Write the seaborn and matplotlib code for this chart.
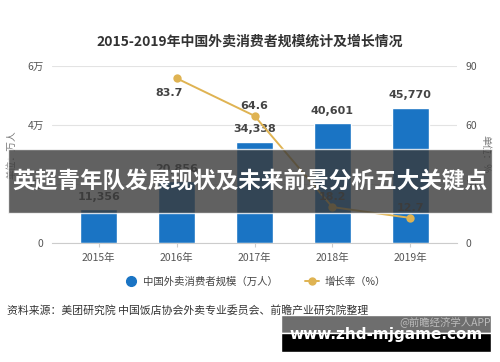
import matplotlib
matplotlib.use("Agg")
import matplotlib.pyplot as plt
import matplotlib.patches as mpatches
from matplotlib.lines import Line2D
import seaborn as sns
import pandas as pd

# data
years = ["2015年", "2016年", "2017年", "2018年", "2019年"]
users = [11356, 20856, 34338, 40601, 45770]
growth_years = ["2016年", "2017年", "2018年", "2019年"]
growth = [83.7, 64.6, 18.2, 12.7]
left_ticks = [0, 20000, 40000, 60000]
left_labels = ["0", "2万", "4万", "6万"]
right_ticks = [0, 30, 60, 90]

sns.set_style("white")
plt.rcParams["font.family"] = ["Noto Sans CJK SC", "DejaVu Sans"]

bar_color = "#1a74c4"
line_color = "#dfb352"

fig = plt.figure(figsize=(5, 3.62), dpi=100)
ax = fig.add_axes([0.104, 0.329, 0.81, 0.489])

df = pd.DataFrame({"year": years, "users": users})
sns.barplot(data=df, x="year", y="users", color=bar_color, width=0.47,
            saturation=1, ax=ax, zorder=2)
ax.set_xlim(-0.6, 4.6)
ax.set_ylim(0, 60000)
ax.set_yticks(left_ticks)
ax.set_yticklabels(left_labels)
ax.yaxis.grid(True, color="#e3e3e3", lw=0.8)
ax.set_axisbelow(True)
for s in ["top", "right", "left"]:
    ax.spines[s].set_visible(False)
ax.spines["bottom"].set_color("#cccccc")
ax.tick_params(axis="y", length=0, pad=6, labelsize=7.5, labelcolor="#555555")
ax.tick_params(axis="x", length=3, color="#cccccc", pad=4, labelsize=7.5,
               labelcolor="#555555", bottom=True)
ax.set_xlabel("")
ax.set_ylabel("单位：万人", fontsize=7, color="#777777", labelpad=8)

for i, v in enumerate(users):
    ax.text(i, v + 2500, f"{v:,}", ha="center", va="bottom", fontsize=8,
            fontweight="bold", color="#444444", family="DejaVu Sans")

ax2 = ax.twinx()
gx = [years.index(y) for y in growth_years]
gdf = pd.DataFrame({"x": gx, "g": growth})
sns.lineplot(data=gdf, x="x", y="g", color=line_color, lw=1.4, marker="o",
             markersize=6, markeredgewidth=0, ax=ax2, zorder=3)
ax2.set_ylim(0, 90)
ax2.set_yticks(right_ticks)
ax2.set_xlim(-0.6, 4.6)
for s in ["top", "right", "left", "bottom"]:
    ax2.spines[s].set_visible(False)
ax2.tick_params(axis="y", length=0, pad=6, labelsize=7.5, labelcolor="#555555")
ax2.set_xlabel("")
ax2.set_ylabel("单位：%", fontsize=7, color="#777777", rotation=-90, labelpad=10)

offsets = [-7.5, 5, 5, 5]
for x, g, o in zip(gx, growth, offsets):
    ax2.text(x - (0.1 if o < 0 else 0), g + o, f"{g}", ha="center",
             va="center", fontsize=8, fontweight="bold", color="#444444",
             family="DejaVu Sans")

# title
fig.text(0.5, 1 - 42 / 362, "2015-2019年中国外卖消费者规模统计及增长情况",
         ha="center", va="center", fontsize=10, fontweight="bold",
         color="#333333")

# legend
handles = [
    Line2D([], [], ls="none", marker="o", color=bar_color, markersize=7),
    Line2D([], [], color=line_color, lw=1.4, marker="o", markersize=5),
]
fig.legend(handles, ["中国外卖消费者规模（万人）", "增长率（%）"], ncol=2,
           loc="center", bbox_to_anchor=(0.51, 1 - 282 / 362), frameon=False,
           fontsize=7.5, labelcolor="#444444", handlelength=1.3,
           columnspacing=2.6, handletextpad=0.5)

# source
fig.text(7 / 500, 1 - 310 / 362,
         "资料来源：美团研究院 中国饭店协会外卖专业委员会、前瞻产业研究院整理",
         ha="left", va="center", fontsize=7.8, color="#333333")

# overlay banner
fig.patches.append(mpatches.Rectangle((8 / 500, 1 - 213 / 362), 484 / 500,
                                      64 / 362, transform=fig.transFigure,
                                      facecolor="#3a3a3a", alpha=0.8,
                                      zorder=10))
fig.text(0.5, 1 - 182 / 362, "英超青年队发展现状及未来前景分析五大关键点",
         ha="center", va="center", fontsize=16.3, fontweight="bold",
         color="white", zorder=11)

# watermark box
fig.patches.append(mpatches.Rectangle((281 / 500, 1 - 333 / 362), 210 / 500,
                                      18 / 362, transform=fig.transFigure,
                                      facecolor="#6e6e6e", zorder=10))
fig.patches.append(mpatches.Rectangle((281 / 500, 1 - 352 / 362), 210 / 500,
                                      19 / 362, transform=fig.transFigure,
                                      facecolor="black", zorder=10))
fig.text(491 / 500, 1 - 322 / 362, "@前瞻经济学人APP", ha="right",
         va="center", fontsize=7.5, color="#bbbbbb", zorder=11)
fig.text(386 / 500, 1 - 334 / 362, "www.zhd-mjgame.com", ha="center",
         va="center", fontsize=11, fontweight="bold", color="white",
         family="DejaVu Sans", zorder=11)

fig.savefig("out.png", dpi=100, facecolor="white")
